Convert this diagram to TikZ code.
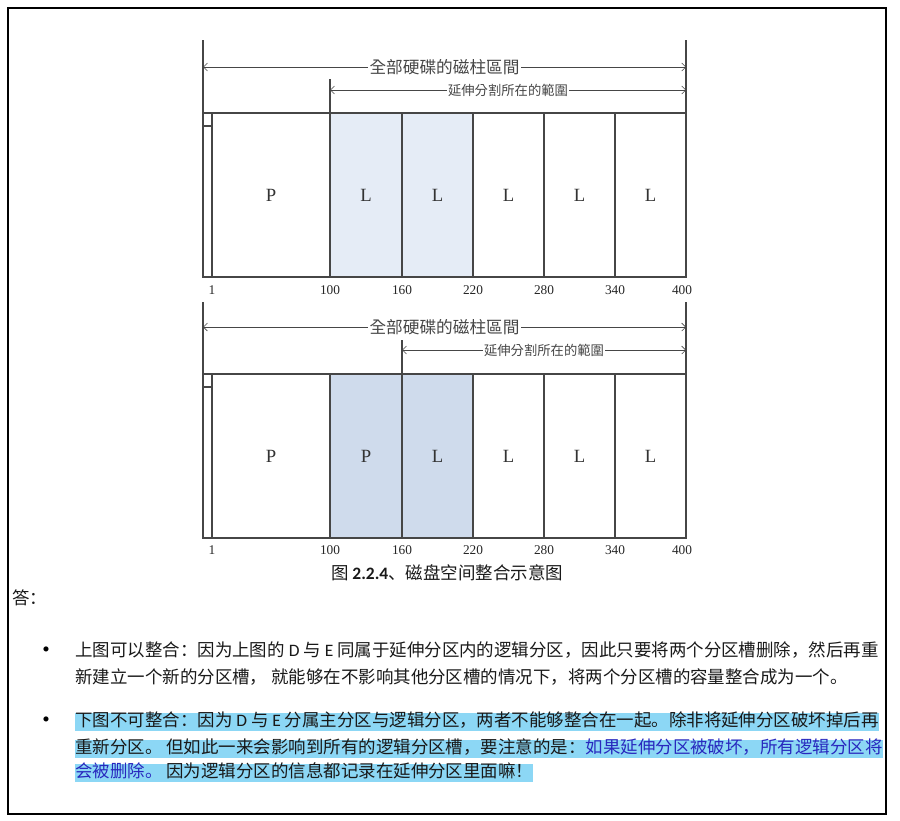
\documentclass[tikz,border=0pt]{standalone}
\usepackage{fontspec}
\setmainfont{Liberation Serif}
\newfontfamily\cjk{Noto Sans CJK SC}
\newfontfamily\cjktc{Noto Sans CJK TC}
\newfontfamily\lat{Carlito}
\usetikzlibrary{arrows.meta, positioning, calc}
\definecolor{extfill}{RGB}{229,236,246}
\definecolor{mergefill}{RGB}{207,219,236}
\definecolor{hilite}{RGB}{140,215,245}
\definecolor{warnblue}{RGB}{40,40,190}
\definecolor{linegray}{RGB}{70,70,70}
\tikzstyle{dim} = [thin, linegray, {Straight Barb[length=3pt,width=6pt]}-{Straight Barb[length=3pt,width=6pt]}]

\begin{document}
\begin{tikzpicture}[
  x=0.75pt, y=-0.75pt,
  every node/.style={font=\cjk\fontsize{13.1}{15}\selectfont, text=black!90},
  part/.style={draw=linegray, line width=0.9pt},
  cyl/.style={font=\fontsize{10}{12}\selectfont, text=black!85},
  plab/.style={font=\fontsize{14}{16}\selectfont, text=black!80},
  rng/.style={fill=white, inner sep=1pt, text=linegray},
  bul/.style={font=\fontsize{16}{18}\selectfont, text=black},
  txtline/.style={anchor=west, inner xsep=0pt, inner ysep=0pt, text height=10.5pt, text depth=3.5pt},
  hiline/.style={txtline, fill=hilite}
]
\useasboundingbox (0,0) rectangle (900,821);

% Page frame
\draw[line width=1.8pt] (8,8) rectangle (886,814);

% Upper disk: both L in the extended partition
\foreach \l/\r/\t/\f [count=\i] in {212/330/P/white, 330/402/L/extfill, 402/473/L/extfill, 473/544/L/white, 544/615/L/white, 615/686/L/white} {
  \draw[part, fill=\f] (\l,113) rectangle (\r,277);
  \node[plab] (a\i) at ({(\l+\r)/2},195) {\t};
}
\draw[part] (203,40) -- (203,277) -- (212,277);
\draw[part] (203,113) -- (212,113);
\draw[part] (203,126) -- (212,126);
\draw[part] (686,40) -- (686,113);
\draw[part] (330,79) -- (330,113);

\coordinate (aL) at (203,67);
\coordinate (aR) at (686,67);
\coordinate (aE) at (330,90);
\coordinate (aF) at (686,90);
\draw[dim] (aL) -- node[rng, font=\cjktc\fontsize{12.5}{14}\selectfont] (aall) {全部硬碟的磁柱區間} (aR);
\draw[dim] (aE) -- node[rng, font=\cjktc\fontsize{10}{12}\selectfont] (aext) {延伸分割所在的範圍} (aF);

\foreach \x/\n in {212/1, 330/100, 402/160, 473/220, 544/280, 615/340, 682/400}
  \node[cyl] (an\n) at (\x,290) {\n};

% Lower disk: P next to L, cannot merge
\begin{scope}[shift={(0,261)}]
\foreach \l/\r/\t/\f [count=\i] in {212/330/P/white, 330/402/P/mergefill, 402/473/L/mergefill, 473/544/L/white, 544/615/L/white, 615/686/L/white} {
  \draw[part, fill=\f] (\l,113) rectangle (\r,277);
  \node[plab] (b\i) at ({(\l+\r)/2},195) {\t};
}
\draw[part] (203,41) -- (203,277) -- (212,277);
\draw[part] (203,113) -- (212,113);
\draw[part] (203,126) -- (212,126);
\draw[part] (686,41) -- (686,113);
\draw[part] (402,79) -- (402,113);

\coordinate (bL) at (203,66);
\coordinate (bR) at (686,66);
\coordinate (bE) at (402,89);
\coordinate (bF) at (686,89);
\draw[dim] (bL) -- node[rng, font=\cjktc\fontsize{12.5}{14}\selectfont] (ball) {全部硬碟的磁柱區間} (bR);
\draw[dim] (bE) -- node[rng, font=\cjktc\fontsize{10}{12}\selectfont] (bext) {延伸分割所在的範圍} (bF);

\foreach \x/\n in {212/1, 330/100, 402/160, 473/220, 544/280, 615/340, 682/400}
  \node[cyl] (bn\n) at (\x,289) {\n};
\end{scope}

% Caption and answer
\node (cap) at (447,573) {图 {\lat\bfseries 2.2.4}、磁盘空间整合示意图};
\node[txtline] (ans) at (12,600) {答：};

\node[bul] (dot1) at (46,652) {\textbullet};
\node[txtline] (l1) at (75,652) {上图可以整合：因为上图的 {\lat D} 与 {\lat E} 同属于延伸分区内的逻辑分区，因此只要将两个分区槽删除，然后再重};
\node[txtline] (l2) at (75,679) {新建立一个新的分区槽， 就能够在不影响其他分区槽的情况下，将两个分区槽的容量整合成为一个。};

\node[bul] (dot2) at (46,722) {\textbullet};
\node[hiline] (m1) at (75,722) {下图不可整合：因为 {\lat D} 与 {\lat E} 分属主分区与逻辑分区，两者不能够整合在一起。除非将延伸分区破坏掉后再};
\node[hiline] (m2) at (75,749) {重新分区。 但如此一来会影响到所有的逻辑分区槽，要注意的是：\textcolor{warnblue}{如果延伸分区被破坏，所有逻辑分区将}};
\node[hiline] (m3) at (75,773) {\textcolor{warnblue}{会被删除。} 因为逻辑分区的信息都记录在延伸分区里面嘛！};

\end{tikzpicture}
\end{document}
